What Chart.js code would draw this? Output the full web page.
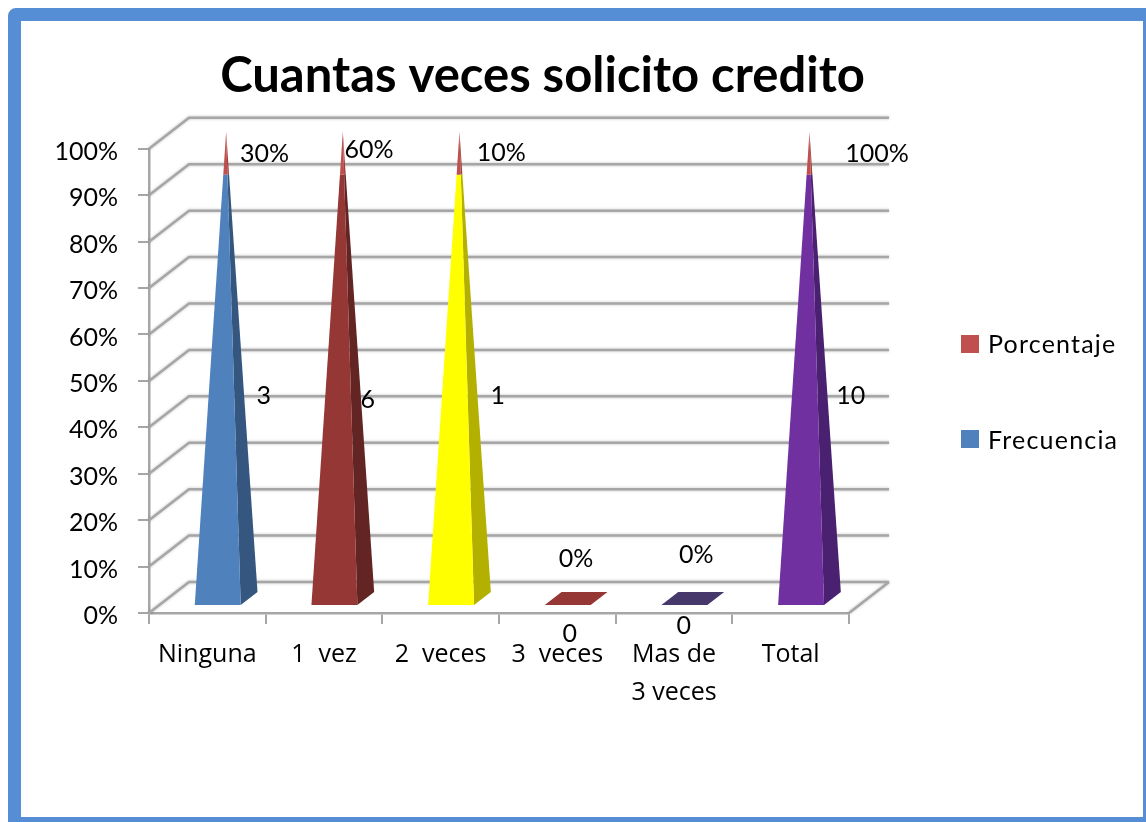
<!DOCTYPE html>
<html lang="es">
<head>
<meta charset="utf-8">
<title>Cuantas veces solicito credito</title>
<script src="https://cdn.jsdelivr.net/npm/chart.js@4"></script>
<style>
  html, body { margin: 0; height: 100%; background: #fff; overflow: hidden; }
  /* blue slide frame, runs off the right and bottom of the window */
  #frame {
    position: absolute; left: 8px; top: 8px; width: 1148px; height: 822px;
    box-sizing: border-box; border: 13px solid #558ED5; border-top-left-radius: 8px;
  }
  #chart { position: absolute; left: 0; top: 0; }
</style>
</head>
<body>
<div id="frame"></div>
<canvas id="chart" width="1146" height="822"></canvas>
<script>
const categories = ['Ninguna', '1  vez', '2  veces', '3  veces', ['Mas de', '3 veces'], 'Total'];
const frecuencia = [3, 6, 1, 0, 0, 10];
const porcentaje = [0.3, 0.6, 0.1, 0, 0, 1];
const porcentajeLabels = ['30%', '60%', '10%', '0%', '0%', '100%'];

// Excel's 100% stacked share of each series per category
const frecuenciaShare = frecuencia.map((f, i) => (f + porcentaje[i] ? f / (f + porcentaje[i]) * 100 : 0));
const porcentajeShare = porcentaje.map((p, i) => (p + frecuencia[i] ? p / (p + frecuencia[i]) * 100 : 0));

// per-category pyramid colours
const faceColors = ['#4F81BD', '#953735', '#FFFF00', '#953735', '#46386A', '#7030A0'];
const sideColors = ['#35577F', '#632523', '#B3B000', '#632523', '#2F2545', '#4A2070'];
const tipFace = '#C0504D';
const tipSide = '#9C3F3D';

// hand-placed data labels of the original: x in category units from the bar, y in axis units
const pctLabelDx = [0.49, 0.386, 0.52, 0.16, 0.19, 0.74];
const pctLabelY = [98.9, 99.8, 99.1, 11.6, 12.5, 98.9];
const freqLabelDx = [0.484, 0.375, 0.49, 0.107, 0.084, 0.516];
const freqLabelY = [46.8, 45.9, 46.8, -4.5, -2.8, 46.8];

// ── 3D look ───────────────────────────────────────────────────────────────────
const DEPTH_X = 40;
const DEPTH_Y = 31;
const BASE_FRONT = 0.26;
const BASE_BACK = 0.68;
const APEX_DEPTH_X = 0.47;
const APEX_DEPTH_Y = 0.55;
const GRID_COLOR = '#A6A6A6';
const FONT = 'Lato, Carlito, sans-serif';
const WIDE_FONT = '"Open Sans", sans-serif'; // original text runs wider than Lato here

// legend block, right of the plot
const LEGEND_X = 961;
const LEGEND_TOP = 344;
const LEGEND_STEP = 95;
const LEGEND_BOX = 18;

function polygon(ctx, pts, color) {
  ctx.fillStyle = color;
  ctx.beginPath();
  pts.forEach((p, i) => (i ? ctx.lineTo(p.x, p.y) : ctx.moveTo(p.x, p.y)));
  ctx.closePath();
  ctx.fill();
}

function drawWalls(chart) {
  const { ctx, chartArea, scales } = chart;
  const { left, right } = chartArea;
  const y0 = scales.y.getPixelForValue(0);
  ctx.save();
  ctx.strokeStyle = GRID_COLOR;
  ctx.lineWidth = 2.5;
  ctx.shadowColor = 'rgba(0,0,0,0.25)'; // the original lines have a soft edge
  ctx.shadowBlur = 3;
  ctx.beginPath();
  scales.y.ticks.forEach(t => {
    const y = scales.y.getPixelForValue(t.value);
    ctx.moveTo(left, y);
    ctx.lineTo(left + DEPTH_X, y - DEPTH_Y);
    ctx.lineTo(right + DEPTH_X, y - DEPTH_Y);
  });
  ctx.moveTo(right, y0);
  ctx.lineTo(right + DEPTH_X, y0 - DEPTH_Y);
  ctx.stroke();
  ctx.restore();
}

function drawPyramids(chart) {
  const { ctx, scales } = chart;
  const y0 = scales.y.getPixelForValue(0);
  const yTop = scales.y.getPixelForValue(100);
  const bars = chart.getDatasetMeta(0).data;
  const tips = chart.getDatasetMeta(1).data;

  bars.forEach((bar, i) => {
    const half = bar.width / 2;
    const corner = (side, depth) => ({ x: bar.x + side * half + DEPTH_X * depth, y: y0 - DEPTH_Y * depth });
    const fl = corner(-1, BASE_FRONT);
    const fr = corner(1, BASE_FRONT);
    const br = corner(1, BASE_BACK);
    const bl = corner(-1, BASE_BACK);
    if (frecuenciaShare[i] + porcentajeShare[i] === 0) {
      polygon(ctx, [fl, fr, br, bl], faceColors[i]);
      return;
    }
    const apex = { x: bar.x + DEPTH_X * APEX_DEPTH_X, y: yTop - DEPTH_Y * APEX_DEPTH_Y };
    const at = (p, t) => ({ x: p.x + (apex.x - p.x) * t, y: p.y + (apex.y - p.y) * t });
    const split = (y0 - bar.y) / (y0 - yTop);
    const end = (y0 - tips[i].y) / (y0 - yTop);
    // lower part is Frecuencia, the tip above it is Porcentaje
    polygon(ctx, [fr, br, at(br, split), at(fr, split)], sideColors[i]);
    polygon(ctx, [fl, fr, at(fr, split), at(fl, split)], faceColors[i]);
    polygon(ctx, [at(fr, split), at(br, split), at(br, end), at(fr, end)], tipSide);
    polygon(ctx, [at(fl, split), at(fr, split), at(fr, end), at(fl, end)], tipFace);
  });
}

function drawLabels(chart) {
  const { ctx, scales } = chart;
  ctx.save();
  ctx.fillStyle = '#000';
  ctx.font = `25px ${FONT}`;
  ctx.textAlign = 'center';
  ctx.textBaseline = 'middle';
  categories.forEach((c, i) => {
    ctx.fillText(porcentajeLabels[i], scales.x.getPixelForValue(i + pctLabelDx[i]), scales.y.getPixelForValue(pctLabelY[i]));
    ctx.fillText(String(frecuencia[i]), scales.x.getPixelForValue(i + freqLabelDx[i]), scales.y.getPixelForValue(freqLabelY[i]));
  });
  ctx.restore();
}

// built-in legend gets capped at a quarter of the width with three side boxes, so it is drawn here
function drawLegend(chart) {
  const { ctx } = chart;
  const items = [...chart.data.datasets].reverse();
  ctx.save();
  ctx.font = `25px ${FONT}`;
  ctx.letterSpacing = '1.2px';
  ctx.textBaseline = 'middle';
  items.forEach((ds, i) => {
    const y = LEGEND_TOP + i * LEGEND_STEP;
    ctx.fillStyle = ds.backgroundColor;
    ctx.fillRect(LEGEND_X, y - LEGEND_BOX / 2, LEGEND_BOX, LEGEND_BOX);
    ctx.fillStyle = '#000';
    ctx.fillText(ds.label, LEGEND_X + LEGEND_BOX + 9, y + 1 + i);
  });
  ctx.restore();
}

const pyramidPlugin = {
  id: 'pyramids',
  beforeDatasetsDraw(chart) {
    drawWalls(chart);
    drawPyramids(chart);
    drawLabels(chart);
    drawLegend(chart);
    return false; // the plain bars stay undrawn, they only carry the geometry
  }
};

new Chart(document.getElementById('chart'), {
  type: 'bar',
  plugins: [pyramidPlugin],
  data: {
    labels: categories,
    datasets: [
      { label: 'Frecuencia', data: frecuenciaShare, backgroundColor: '#4F81BD', categoryPercentage: 1, barPercentage: 0.394 },
      { label: 'Porcentaje', data: porcentajeShare, backgroundColor: '#C0504D', categoryPercentage: 1, barPercentage: 0.394 }
    ]
  },
  options: {
    responsive: false,
    animation: false,
    layout: { padding: { right: 61 } },
    plugins: {
      title: {
        display: true,
        text: 'Cuantas veces solicito credito',
        color: '#000',
        font: { family: FONT, size: 49, weight: 'bold', lineHeight: 1.2 },
        padding: { top: 47, bottom: 43 }
      },
      legend: { display: false },
      tooltip: { enabled: false }
    },
    scales: {
      x: {
        stacked: true,
        afterFit: s => { s.height = 209; },
        border: { color: GRID_COLOR, width: 2.5 },
        grid: { drawOnChartArea: false, color: GRID_COLOR, lineWidth: 2, tickLength: 11 },
        ticks: { color: '#000', font: { family: WIDE_FONT, size: 25, lineHeight: 1.52 }, padding: 12, maxRotation: 0, autoSkip: false }
      },
      y: {
        stacked: true,
        min: 0,
        max: 100,
        afterFit: s => { s.width = 149; },
        border: { color: GRID_COLOR, width: 2.5 },
        grid: { drawOnChartArea: false, color: GRID_COLOR, lineWidth: 2, tickLength: 11 },
        ticks: { color: '#000', font: { family: FONT, size: 25 }, padding: 20, stepSize: 10, labelOffset: 3, callback: v => v + '%' }
      },
      // empty strip right of the plot, holds the 3D depth and the legend
      depth: {
        position: 'right',
        afterFit: s => { s.width = 236; },
        border: { display: false },
        grid: { display: false },
        ticks: { display: false }
      }
    }
  }
});
</script>
</body>
</html>
